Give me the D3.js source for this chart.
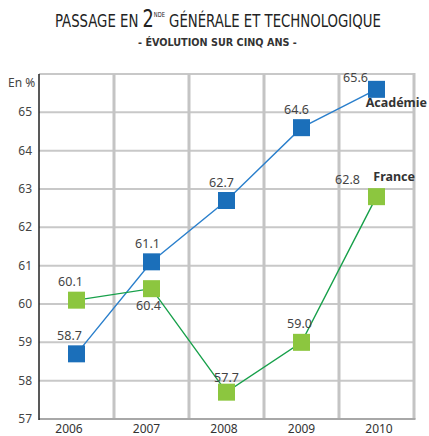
<!DOCTYPE html>
<html>
<head>
<meta charset="utf-8">
<script src="https://cdn.jsdelivr.net/npm/d3@7"></script>
<style>
  body { margin: 0; background: #fff; }
  svg { display: block; }
</style>
</head>
<body>
<div id="chart"></div>
<script>
var width = 429;
var height = 436;

// data
var years = ["2006", "2007", "2008", "2009", "2010"];
var academie = [58.7, 61.1, 62.7, 64.6, 65.6];
var france = [60.1, 60.4, 57.7, 59.0, 62.8];
var yTicks = [57, 58, 59, 60, 61, 62, 63, 64, 65];

// label offsets (dx, dy) relative to the marker
var academieLabelPos = [[-7, -14], [-4, -14], [-5, -14], [-5, -14], [-21, -7]];
var franceLabelPos = [[-6, -14], [-3, 21], [0, -10], [-2, -14], [-29, -13]];

var margin = {left: 39, right: 15, top: 74, bottom: 17};

var svg = d3.select("#chart")
            .append("svg")
            .attr("width", width)
            .attr("height", height);

var x = d3.scaleBand()
          .domain(years)
          .range([margin.left, width - margin.right]);

var xLabel = d3.scalePoint()
               .domain(years)
               .range([69, 379]);

var y = d3.scaleLinear()
          .domain([57, 66])
          .range([height - margin.bottom, margin.top]);

var cx = d => x(d) + x.bandwidth() / 2;

// horizontal grid
svg.append("g")
    .selectAll("line")
    .data(yTicks.slice(1).concat([66]))
    .join("line")
    .attr("x1", margin.left)
    .attr("x2", width - margin.right)
    .attr("y1", d => y(d))
    .attr("y2", d => y(d))
    .attr("stroke", "#c8c8c8")
    .attr("stroke-width", 2);

// vertical grid
svg.append("g")
    .selectAll("line")
    .data(years.slice(1))
    .join("line")
    .attr("x1", d => x(d))
    .attr("x2", d => x(d))
    .attr("y1", y(66))
    .attr("y2", y(57))
    .attr("stroke", "#c4c4c4")
    .attr("stroke-width", 3);

svg.append("line")
    .attr("x1", width - margin.right)
    .attr("x2", width - margin.right)
    .attr("y1", y(66) - 1)
    .attr("y2", y(57))
    .attr("stroke", "#c4c4c4")
    .attr("stroke-width", 3);

// bottom axis line
svg.append("line")
    .attr("x1", margin.left)
    .attr("x2", width - margin.right + 1.5)
    .attr("y1", y(57))
    .attr("y2", y(57))
    .attr("stroke", "#a8a8a8")
    .attr("stroke-width", 2);

// left axis line
svg.append("line")
    .attr("x1", margin.left)
    .attr("x2", margin.left)
    .attr("y1", y(66))
    .attr("y2", y(57) + 1)
    .attr("stroke", "#222")
    .attr("stroke-width", 1.5);

var font = "'Noto Sans', 'Open Sans', sans-serif";

// y tick labels
svg.append("g")
    .selectAll("text")
    .data(yTicks)
    .join("text")
    .attr("x", 32)
    .attr("y", d => y(d) + 4)
    .attr("text-anchor", "end")
    .attr("font-family", font)
    .attr("font-size", 12)
    .attr("fill", "#444")
    .text(d => d);

svg.append("text")
    .attr("x", 8)
    .attr("y", 87)
    .attr("font-family", font)
    .attr("font-size", 12)
    .attr("fill", "#444")
    .text("En %");

// x tick labels
svg.append("g")
    .selectAll("text")
    .data(years)
    .join("text")
    .attr("x", d => xLabel(d))
    .attr("y", 433)
    .attr("text-anchor", "middle")
    .attr("font-family", font)
    .attr("font-size", 12)
    .attr("fill", "#333")
    .text(d => d);

var lineGenerator = d3.line()
                      .x((d, i) => cx(years[i]))
                      .y(d => y(d));

function drawSeries(values, lineColor, markColor, labelPos) {
    svg.append("path")
        .attr("d", lineGenerator(values))
        .attr("stroke", lineColor)
        .attr("stroke-width", 1.4)
        .attr("fill", "none");

    svg.append("g")
        .selectAll("rect")
        .data(values)
        .join("rect")
        .attr("x", (d, i) => cx(years[i]) - 8.5)
        .attr("y", d => y(d) - 8.5)
        .attr("width", 17)
        .attr("height", 17)
        .attr("fill", markColor);

    svg.append("g")
        .selectAll("text")
        .data(values)
        .join("text")
        .attr("x", (d, i) => cx(years[i]) + labelPos[i][0])
        .attr("y", (d, i) => y(d) + labelPos[i][1])
        .attr("text-anchor", "middle")
        .attr("font-family", font)
        .attr("font-size", 12.5)
        .attr("fill", "#444")
        .text(d => d.toFixed(1));
}

drawSeries(academie, "#2a7fcc", "#1b6fba", academieLabelPos);
drawSeries(france, "#17a04a", "#8cc63f", franceLabelPos);

// series names
svg.append("text")
    .attr("x", 427)
    .attr("y", 107)
    .attr("text-anchor", "end")
    .attr("font-family", font)
    .attr("font-size", 12.5)
    .attr("font-weight", "bold")
    .attr("fill", "#333")
    .text("Académie");

svg.append("text")
    .attr("x", 415)
    .attr("y", 181)
    .attr("text-anchor", "end")
    .attr("font-family", font)
    .attr("font-size", 12.5)
    .attr("font-weight", "bold")
    .attr("fill", "#333")
    .text("France");

// title
var condensed = "'Liberation Sans Narrow', 'DejaVu Sans Condensed', 'Roboto Condensed', 'Liberation Sans', sans-serif";
var title = svg.append("text")
    .attr("x", 0)
    .attr("y", 27)
    .attr("font-family", condensed)
    .attr("font-size", 18)
    .attr("fill", "#222");
title.append("tspan").text("PASSAGE EN ");
title.append("tspan").attr("font-size", 24).text("2");
title.append("tspan").attr("font-size", 7).attr("dy", -10).text("NDE");
title.append("tspan").attr("dy", 10).text(" GÉNÉRALE ET TECHNOLOGIQUE");

var tw = title.node().getComputedTextLength();
title.attr("transform", "translate(55,0) scale(" + (326 / tw) + ",1)");

var sub = svg.append("text")
    .attr("x", 0)
    .attr("y", 46)
    .attr("font-family", condensed)
    .attr("font-size", 10)
    .attr("font-weight", "bold")
    .attr("fill", "#333")
    .text("- ÉVOLUTION SUR CINQ ANS -");
var sw = sub.node().getComputedTextLength();
sub.attr("transform", "translate(138,0) scale(" + (159 / sw) + ",1)");
</script>
</body>
</html>
